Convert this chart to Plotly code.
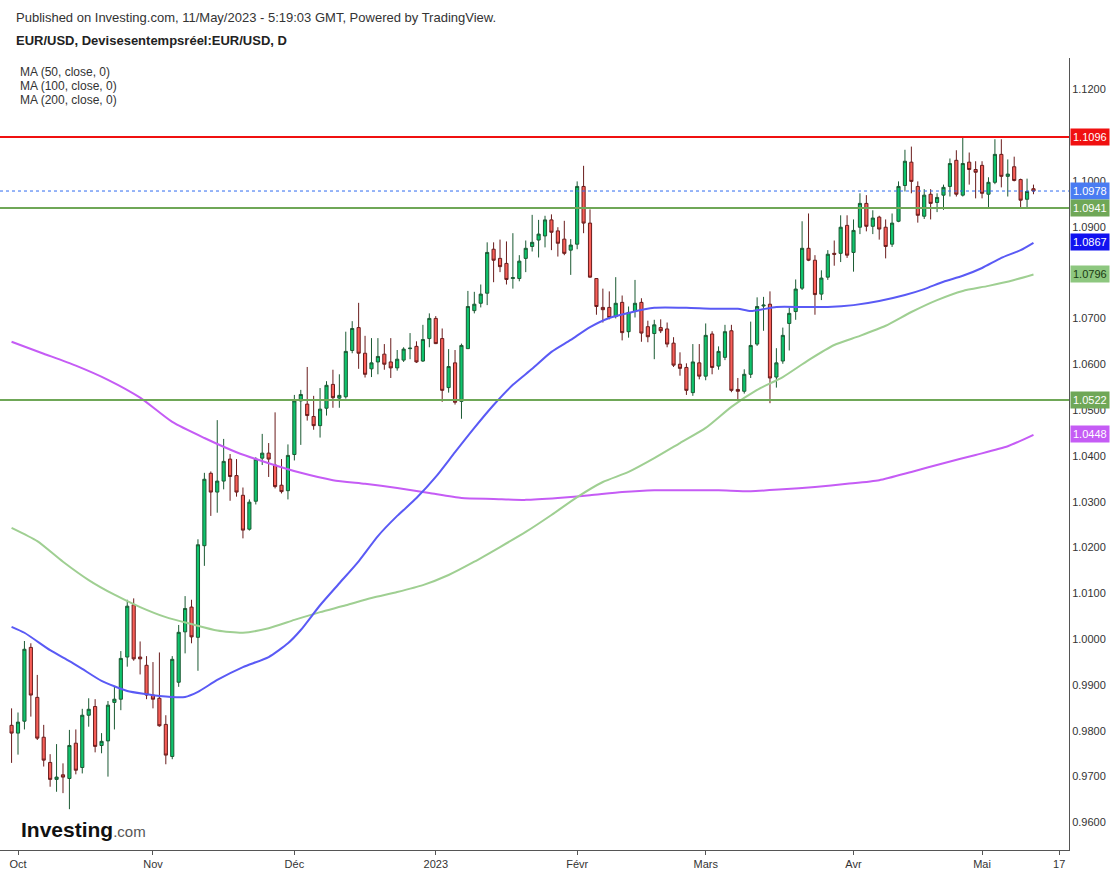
import pandas as pd
import plotly.graph_objects as go

# ---------------- data ----------------
start_date = "2022-09-30"
end_date = "2023-05-11"

opens = [
    0.9812, 0.9795, 0.9821, 0.9982, 0.9873, 0.9786, 0.9731, 0.9694, 0.9704, 0.9696,
    0.9773, 0.9720, 0.9834, 0.9853, 0.9768, 0.9778, 0.9862, 0.9869, 0.9961, 1.0075,
    0.9961, 0.9943, 0.9878, 0.9871, 0.9814, 0.9744, 0.9906, 1.0016, 1.0070, 1.0004,
    1.0204, 1.0362, 1.0321, 1.0345, 1.0393, 1.0357, 1.0314, 1.0240, 1.0301, 1.0395,
    1.0406, 1.0380, 1.0336, 1.0324, 1.0403, 1.0520, 1.0513, 1.0486, 1.0466, 1.0504,
    1.0556, 1.0526, 1.0529, 1.0630, 1.0680, 1.0624, 1.0590, 1.0605, 1.0622, 1.0605,
    1.0592, 1.0609, 1.0634, 1.0639, 1.0607, 1.0656, 1.0700, 1.0656, 1.0549, 1.0603,
    1.0519, 1.0634, 1.0717, 1.0733, 1.0755, 1.0851, 1.0831, 1.0820, 1.0787, 1.0787,
    1.0831, 1.0857, 1.0871, 1.0880, 1.0915, 1.0891, 1.0873, 1.0849, 1.0862, 1.0988,
    1.0908, 1.0787, 1.0724, 1.0724, 1.0704, 1.0735, 1.0671, 1.0715, 1.0735, 1.0682,
    1.0667, 1.0680, 1.0677, 1.0646, 1.0600, 1.0593, 1.0538, 1.0603, 1.0574, 1.0666,
    1.0596, 1.0615, 1.0673, 1.0545, 1.0541, 1.0578, 1.0644, 1.0727, 1.0731, 1.0572,
    1.0607, 1.0689, 1.0715, 1.0766, 1.0853, 1.0827, 1.0753, 1.0790, 1.0842, 1.0842,
    1.0903, 1.0844, 1.0899, 1.0951, 1.0901, 1.0921, 1.0899, 1.0862, 1.0912, 1.0990,
    1.1041, 1.0988, 1.0923, 1.0971, 1.0953, 1.0969, 1.0988, 1.1045, 1.0969, 1.1041,
    1.1025, 1.1034, 1.0971, 1.0997, 1.1058, 1.1010, 1.1031, 1.1003, 1.0960, 1.0983,
]
highs = [
    0.9849, 0.9840, 0.9996, 0.9991, 0.9922, 0.9813, 0.9749, 0.9771, 0.9729, 0.9802,
    0.9803, 0.9848, 0.9871, 0.9869, 0.9795, 0.9865, 0.9896, 0.9974, 1.0086, 1.0089,
    0.9995, 0.9963, 0.9950, 0.9971, 0.9834, 0.9963, 1.0031, 1.0094, 1.0086, 1.0218,
    1.0363, 1.0366, 1.0478, 1.0437, 1.0404, 1.0393, 1.0331, 1.0305, 1.0397, 1.0448,
    1.0428, 1.0495, 1.0393, 1.0425, 1.0533, 1.0544, 1.0594, 1.0531, 1.0548, 1.0563,
    1.0588, 1.0578, 1.0671, 1.0694, 1.0734, 1.0662, 1.0657, 1.0657, 1.0644, 1.0657,
    1.0631, 1.0637, 1.0668, 1.0650, 1.0686, 1.0711, 1.0705, 1.0678, 1.0633, 1.0631,
    1.0645, 1.0760, 1.0758, 1.0774, 1.0866, 1.0866, 1.0872, 1.0868, 1.0886, 1.0838,
    1.0870, 1.0926, 1.0915, 1.0924, 1.0927, 1.0899, 1.0913, 1.0873, 1.0999, 1.1033,
    1.0938, 1.0788, 1.0765, 1.0759, 1.0790, 1.0750, 1.0726, 1.0784, 1.0744, 1.0695,
    1.0697, 1.0698, 1.0691, 1.0659, 1.0626, 1.0602, 1.0644, 1.0644, 1.0689, 1.0672,
    1.0639, 1.0686, 1.0686, 1.0570, 1.0589, 1.0693, 1.0746, 1.0747, 1.0759, 1.0635,
    1.0680, 1.0724, 1.0785, 1.0912, 1.0929, 1.0838, 1.0805, 1.0849, 1.0870, 1.0925,
    1.0925, 1.0916, 1.0973, 1.0969, 1.0936, 1.0924, 1.0916, 1.0929, 1.0999, 1.1068,
    1.1075, 1.0999, 1.0982, 1.0982, 1.0973, 1.0992, 1.1049, 1.1067, 1.1095, 1.1062,
    1.1043, 1.1043, 1.1008, 1.1091, 1.1091, 1.1047, 1.1053, 1.1005, 1.1005, 1.0992,
]
lows = [
    0.9730, 0.9748, 0.9803, 0.9831, 0.9780, 0.9722, 0.9678, 0.9667, 0.9664, 0.9629,
    0.9705, 0.9707, 0.9809, 0.9753, 0.9751, 0.9700, 0.9803, 0.9845, 0.9940, 0.9953,
    0.9923, 0.9869, 0.9849, 0.9809, 0.9727, 0.9738, 0.9896, 0.9969, 0.9991, 0.9931,
    1.0160, 1.0269, 1.0276, 1.0327, 1.0302, 1.0311, 1.0220, 1.0237, 1.0294, 1.0380,
    1.0354, 1.0329, 1.0318, 1.0305, 1.0390, 1.0424, 1.0477, 1.0457, 1.0440, 1.0488,
    1.0505, 1.0505, 1.0525, 1.0624, 1.0590, 1.0571, 1.0572, 1.0578, 1.0588, 1.0570,
    1.0586, 1.0605, 1.0611, 1.0603, 1.0605, 1.0637, 1.0644, 1.0518, 1.0538, 1.0512,
    1.0481, 1.0634, 1.0711, 1.0724, 1.0729, 1.0779, 1.0801, 1.0774, 1.0765, 1.0781,
    1.0801, 1.0846, 1.0833, 1.0855, 1.0849, 1.0835, 1.0838, 1.0795, 1.0851, 1.0886,
    1.0789, 1.0708, 1.0691, 1.0698, 1.0700, 1.0652, 1.0658, 1.0702, 1.0649, 1.0648,
    1.0611, 1.0668, 1.0637, 1.0594, 1.0575, 1.0533, 1.0531, 1.0567, 1.0565, 1.0578,
    1.0588, 1.0609, 1.0539, 1.0524, 1.0536, 1.0570, 1.0640, 1.0673, 1.0515, 1.0549,
    1.0601, 1.0630, 1.0697, 1.0762, 1.0825, 1.0708, 1.0740, 1.0784, 1.0815, 1.0823,
    1.0832, 1.0802, 1.0884, 1.0890, 1.0884, 1.0872, 1.0831, 1.0856, 1.0910, 1.0977,
    1.0973, 1.0909, 1.0917, 1.0916, 1.0932, 1.0937, 1.0966, 1.0966, 1.0966, 1.0992,
    1.0962, 1.0962, 1.0942, 1.0993, 1.0986, 1.0966, 1.0999, 1.0942, 1.0942, 1.0971,
]
closes = [
    0.9795, 0.9819, 0.9978, 0.9878, 0.9784, 0.9736, 0.9694, 0.9699, 0.9699, 0.9768,
    0.9714, 0.9834, 0.9847, 0.9766, 0.9777, 0.9856, 0.9869, 0.9958, 1.0072, 0.9957,
    0.9957, 0.9878, 0.9869, 0.9811, 0.9747, 0.9956, 1.0015, 1.0067, 1.0005, 1.0206,
    1.0349, 1.0321, 1.0345, 1.0388, 1.0355, 1.0321, 1.0238, 1.0299, 1.0393, 1.0406,
    1.0393, 1.0333, 1.0322, 1.0401, 1.0520, 1.0534, 1.0488, 1.0466, 1.0502, 1.0554,
    1.0527, 1.0532, 1.0628, 1.0678, 1.0624, 1.0578, 1.0603, 1.0617, 1.0600, 1.0592,
    1.0611, 1.0633, 1.0635, 1.0605, 1.0654, 1.0700, 1.0645, 1.0543, 1.0595, 1.0517,
    1.0641, 1.0726, 1.0731, 1.0753, 1.0844, 1.0827, 1.0813, 1.0785, 1.0789, 1.0825,
    1.0853, 1.0866, 1.0884, 1.0915, 1.0888, 1.0864, 1.0842, 1.0860, 1.0988, 1.0908,
    1.0790, 1.0726, 1.0719, 1.0702, 1.0733, 1.0669, 1.0713, 1.0733, 1.0668, 1.0660,
    1.0686, 1.0673, 1.0644, 1.0598, 1.0591, 1.0543, 1.0605, 1.0574, 1.0663, 1.0593,
    1.0628, 1.0671, 1.0543, 1.0541, 1.0578, 1.0641, 1.0726, 1.0729, 1.0570, 1.0603,
    1.0663, 1.0711, 1.0764, 1.0853, 1.0827, 1.0752, 1.0788, 1.0840, 1.0840, 1.0899,
    1.0838, 1.0892, 1.0951, 1.0901, 1.0919, 1.0895, 1.0857, 1.0908, 1.0988, 1.1043,
    1.0999, 1.0925, 1.0969, 1.0951, 1.0964, 1.0986, 1.1038, 1.0971, 1.1038, 1.1025,
    1.1019, 1.0973, 1.0997, 1.1058, 1.1010, 1.1015, 1.1001, 1.0958, 1.0977, 1.0978,
]

# moving averages, read at sampled bar positions (bar 0 = first candle)
ma50_bar = [0, 2, 6, 9, 11, 14, 18, 21, 23, 27, 29, 32, 36, 40, 43, 45, 48, 51, 54, 57,
            60, 63, 66, 69, 72, 75, 78, 81, 84, 87, 90, 93, 96, 100, 105, 109, 113, 115, 119, 123,
            127, 131, 135, 139, 142, 145, 148, 151, 154, 157, 159]
ma50_val = [1.0027, 1.0014, 0.9976, 0.9952, 0.9935, 0.9909, 0.9887, 0.9880, 0.9876, 0.9874,
            0.9885, 0.9911, 0.9939, 0.9961, 0.9991, 1.0020, 1.0074, 1.0122, 1.0170, 1.0225,
            1.0269, 1.0308, 1.0354, 1.0408, 1.0461, 1.0511, 1.0555, 1.0590, 1.0627, 1.0653,
            1.0681, 1.0701, 1.0712, 1.0723, 1.0723, 1.0721, 1.0721, 1.0716, 1.0725, 1.0725,
            1.0725, 1.0729, 1.0738, 1.0751, 1.0764, 1.0780, 1.0793, 1.0810, 1.0832, 1.0849,
            1.0865]

ma100_bar = [0, 4, 8, 12, 16, 20, 24, 28, 32, 36, 40, 44, 48, 52, 56, 60, 64, 68, 72, 76,
             80, 84, 88, 92, 96, 100, 104, 108, 112, 116, 120, 124, 128, 132, 136, 140, 144, 148,
             152, 156, 159]
ma100_val = [1.0243, 1.0214, 1.0169, 1.0129, 1.0097, 1.0070, 1.0048, 1.0033, 1.0019, 1.0014,
             1.0024, 1.0042, 1.0059, 1.0074, 1.0090, 1.0103, 1.0118, 1.0140, 1.0169, 1.0201,
             1.0234, 1.0271, 1.0310, 1.0343, 1.0365, 1.0395, 1.0428, 1.0461, 1.0507, 1.0544,
             1.0572, 1.0609, 1.0642, 1.0662, 1.0684, 1.0714, 1.0740, 1.0760, 1.0771, 1.0784,
             1.0796]

ma200_bar = [0, 5, 10, 15, 20, 25, 30, 35, 40, 45, 50, 55, 60, 65, 70, 75, 80, 85, 90, 95,
             100, 105, 110, 115, 120, 125, 130, 135, 140, 145, 150, 155, 159]
ma200_val = [1.0649, 1.0623, 1.0597, 1.0566, 1.0527, 1.0474, 1.0439, 1.0408, 1.0384, 1.0363,
             1.0347, 1.0339, 1.0330, 1.0319, 1.0308, 1.0306, 1.0304, 1.0308, 1.0314, 1.0321,
             1.0325, 1.0325, 1.0325, 1.0323, 1.0327, 1.0332, 1.0339, 1.0347, 1.0365, 1.0384,
             1.0402, 1.0421, 1.0446]

level_red = 1.1096
level_green = [1.0941, 1.0522]
last_price = 1.0978

month_labels = ["Oct", "Nov", "Déc", "2023", "Févr", "Mars", "Avr", "Mai"]
extra_tick_date = "2023-05-17"
extra_tick_label = "17"

legend_lines = ["MA (50, close, 0)", "MA (100, close, 0)", "MA (200, close, 0)"]
header_1 = "Published on Investing.com, 11/May/2023 - 5:19:03 GMT, Powered by TradingView."
header_2 = "EUR/USD, Devisesentempsréel:EUR/USD, D"

# ---------------- build ----------------
dates = pd.bdate_range(start_date, end_date)
bars = list(range(len(dates)))

# month ticks: first bar of each new month
tickvals, ticktext = [], []
lab_i = 0
for i in range(1, len(dates)):
    if dates[i].month != dates[i - 1].month:
        tickvals.append(i)
        ticktext.append(month_labels[lab_i])
        lab_i += 1
future = pd.bdate_range(dates[-1], extra_tick_date)
tickvals.append(bars[-1] + len(future) - 1)
ticktext.append(extra_tick_label)

FONT = "Liberation Sans, Arial, sans-serif"

fig = go.Figure()

fig.add_trace(go.Scatter(x=ma200_bar, y=ma200_val, mode="lines",
                         line=dict(color="#c55cf5", width=2, shape="spline", smoothing=0.6),
                         hoverinfo="skip", showlegend=False))
fig.add_trace(go.Scatter(x=ma100_bar, y=ma100_val, mode="lines",
                         line=dict(color="#9fcf92", width=2, shape="spline", smoothing=0.6),
                         hoverinfo="skip", showlegend=False))
fig.add_trace(go.Scatter(x=ma50_bar, y=ma50_val, mode="lines",
                         line=dict(color="#5a5af5", width=2, shape="spline", smoothing=0.6),
                         hoverinfo="skip", showlegend=False))

fig.add_trace(go.Candlestick(
    x=bars, open=opens, high=highs, low=lows, close=closes,
    increasing=dict(fillcolor="#0ec46d", line=dict(color="#1b5a33", width=1)),
    decreasing=dict(fillcolor="#f85f58", line=dict(color="#6a1c1c", width=1)),
    whiskerwidth=0, hoverinfo="skip", showlegend=False,
))

# horizontal levels
fig.add_shape(type="line", xref="paper", x0=0, x1=1, yref="y", y0=level_red, y1=level_red,
              line=dict(color="#f01010", width=2))
for lv in level_green:
    fig.add_shape(type="line", xref="paper", x0=0, x1=1, yref="y", y0=lv, y1=lv,
                  line=dict(color="#6fa757", width=2))
fig.add_shape(type="line", xref="paper", x0=0, x1=1, yref="y", y0=last_price, y1=last_price,
              line=dict(color="#2f6bf0", width=1, dash="dot"))

# price labels on the right axis
price_tags = [
    (level_red, "#f01010", "white"),
    (last_price, "#4a7cf2", "white"),
    (level_green[0], "#6fa757", "white"),
    (ma50_val[-1] + 0.0002, "#1212f0", "white"),
    (ma100_val[-1], "#8dc77f", "#1a3a12"),
    (level_green[1], "#6fa757", "white"),
    (1.0448, "#c55cf5", "white"),
]
for val, bg, fg in price_tags:
    fig.add_annotation(x=1.0, xref="paper", y=val, yref="y", xanchor="left", yanchor="middle",
                       text=f"{val:.4f}", showarrow=False, bgcolor=bg, borderpad=2,
                       font=dict(family=FONT, size=11, color=fg), xshift=1)

PW = 1069.0
def px(xp):
    return xp / PW
def py(yp):
    return (850.0 - yp) / 792.0

fig.add_annotation(x=px(14), y=py(17), xref="paper", yref="paper", xanchor="left", yanchor="middle",
                   text=header_1, showarrow=False, font=dict(family=FONT, size=13, color="#333333"))
fig.add_annotation(x=px(14), y=py(40), xref="paper", yref="paper", xanchor="left", yanchor="middle",
                   text=f"<b>{header_2}</b>", showarrow=False, font=dict(family=FONT, size=13, color="#222222"))
for k, t in enumerate(legend_lines):
    fig.add_annotation(x=px(18), y=py(72 + 14 * k), xref="paper", yref="paper", xanchor="left",
                       yanchor="middle", text=t, showarrow=False,
                       font=dict(family=FONT, size=12, color="#333333"))
fig.add_annotation(x=px(19), y=py(829), xref="paper", yref="paper", xanchor="left", yanchor="middle",
                   text="<b>Investing</b><span style='font-size:15px;color:#555555'>.com</span>",
                   showarrow=False, font=dict(family=FONT, size=21, color="#111111"))

fig.update_layout(
    width=1120, height=875,
    margin=dict(l=0, r=51, t=58, b=25),
    paper_bgcolor="white", plot_bgcolor="white",
    showlegend=False,
    xaxis=dict(
        range=[-1.8007, 164.527], tickvals=tickvals, ticktext=ticktext,
        showgrid=False, zeroline=False, showline=True, linecolor="#555555", linewidth=1,
        ticks="outside", ticklen=4, tickcolor="#555555",
        tickfont=dict(family=FONT, size=11, color="#333333"),
        rangeslider=dict(visible=False), fixedrange=True,
    ),
    yaxis=dict(
        side="right", range=[0.95399, 1.12683], dtick=0.01, tick0=0.96, tickformat=".4f",
        showgrid=False, zeroline=False, showline=True, linecolor="#555555", linewidth=1,
        ticks="", tickfont=dict(family=FONT, size=11, color="#333333"), fixedrange=True,
    ),
)

fig.write_html("out.html")
